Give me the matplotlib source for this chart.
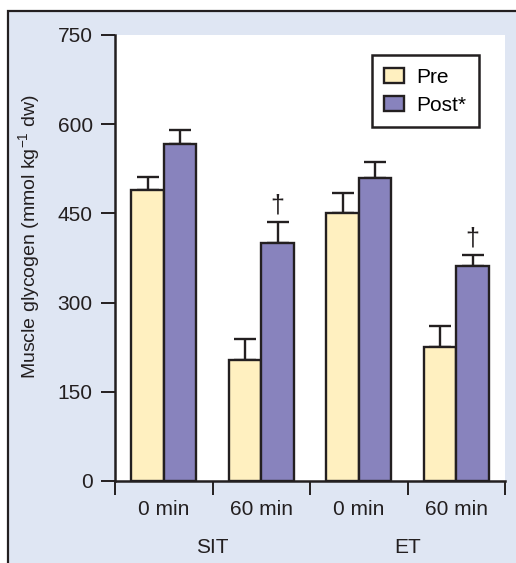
import matplotlib
matplotlib.use("Agg")
import matplotlib.pyplot as plt
from matplotlib.patches import Rectangle
import numpy as np

plt.rcParams['font.family'] = ['Liberation Sans', 'DejaVu Sans']
plt.rcParams['mathtext.fontset'] = 'custom'
plt.rcParams['mathtext.rm'] = 'Liberation Sans'
plt.rcParams['mathtext.it'] = 'Liberation Sans:italic'
plt.rcParams['mathtext.bf'] = 'Liberation Sans:bold'

# ---- data ----
categories = ["0 min", "60 min", "0 min", "60 min"]
groups = ["SIT", "ET"]
pre_values = [490, 204, 450, 225]
pre_err = [22, 34, 35, 35]
post_values = [567, 400, 510, 362]
post_err = [24, 35, 27, 18]
post_dagger = [False, True, False, True]
series_labels = ["Pre", "Post*"]
y_ticks = [0, 150, 300, 450, 600, 750]
ylabel = "Muscle glycogen (mmol kg$^{\\mathrm{-1}}$ dw)"

pre_color = "#fff0c0"
post_color = "#8883bd"
edge = "#231f20"
bg = "#dfe6f3"

W, H = 516, 563
fig = plt.figure(figsize=(W / 100, H / 100), dpi=100)
fig.patch.set_facecolor("white")

# framed light-blue panel
fig.patches.append(Rectangle((8 / W, -0.01), 1.02, (H - 11) / H + 0.01,
                             transform=fig.transFigure, facecolor=bg,
                             edgecolor=edge, linewidth=1.6, zorder=-10))

ax = fig.add_axes([115 / W, (H - 481) / H, (505 - 115) / W, (481 - 35) / H])
ax.set_facecolor("white")

x = np.arange(len(categories))
w = 1 / 3
ax.bar(x - w / 2, pre_values, w, color=pre_color, edgecolor=edge,
       linewidth=1.7, label=series_labels[0], zorder=3)
ax.bar(x + w / 2, post_values, w, color=post_color, edgecolor=edge,
       linewidth=1.7, label=series_labels[1], zorder=3)

ax.errorbar(x - w / 2, pre_values, yerr=[np.zeros(len(x)), pre_err],
            fmt="none", ecolor=edge, elinewidth=1.7, capsize=8, capthick=1.7, zorder=2)
ax.errorbar(x + w / 2, post_values, yerr=[np.zeros(len(x)), post_err],
            fmt="none", ecolor=edge, elinewidth=1.7, capsize=8, capthick=1.7, zorder=2)

for xi, v, e, d in zip(x + w / 2, post_values, post_err, post_dagger):
    if d:
        ax.text(xi, v + e + 8, "\u2020", ha="center", va="bottom",
                fontsize=18, color=edge)

ax.set_xlim(-0.5, len(categories) - 0.5)
ax.set_ylim(0, 750)
ax.set_yticks(y_ticks)
ax.set_yticklabels([str(t) for t in y_ticks])

ax.set_xticks(np.arange(-0.5, len(categories), 1.0))
ax.set_xticklabels([])
ax.set_xticks(x, minor=True)
ax.set_xticklabels(categories, minor=True)
ax.tick_params(axis="x", which="minor", length=0, pad=14, labelsize=15, colors=edge)
ax.tick_params(axis="x", which="major", length=10, width=1.4, color=edge, direction="out")
ax.tick_params(axis="y", length=10, width=1.4, color=edge, direction="out",
               labelsize=15, pad=6)
for lbl in ax.get_yticklabels():
    lbl.set_color(edge)

for s in ["top", "right"]:
    ax.spines[s].set_visible(False)
for s in ["left", "bottom"]:
    ax.spines[s].set_linewidth(1.8)
    ax.spines[s].set_color(edge)

ax.set_ylabel(ylabel, fontsize=14, color=edge)
ax.yaxis.set_label_coords(-0.187, 0.549)

# group labels
for gi, g in enumerate(groups):
    ax.text(gi * 2 + 0.5, -0.148, g, transform=ax.get_xaxis_transform(),
            ha="center", va="center", fontsize=15, color=edge)

leg = ax.legend(loc="upper right", bbox_to_anchor=(0.933, 0.955), borderaxespad=0,
                fontsize=15, handlelength=0.95, handleheight=0.7, fancybox=False,
                framealpha=1, edgecolor=edge, borderpad=0.6, labelspacing=0.45,
                handletextpad=0.6)
leg.get_frame().set_linewidth(1.8)

fig.savefig("out.png", dpi=100, facecolor=fig.get_facecolor())
